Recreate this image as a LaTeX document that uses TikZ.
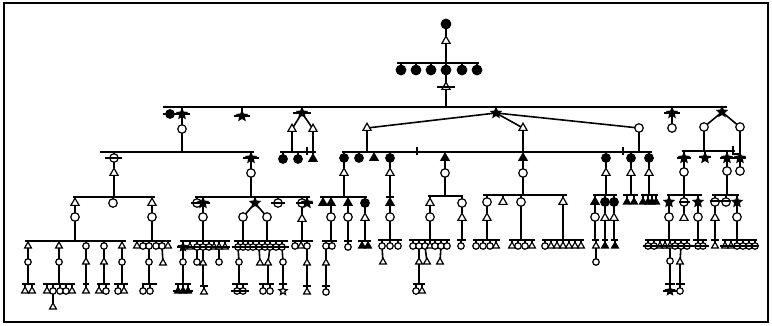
\documentclass[tikz,border=0pt]{standalone}
\usetikzlibrary{shapes.geometric}
\begin{document}
\begin{tikzpicture}[x=1pt,y=-1pt,
 ln/.style={line width=1.6pt},
 sym/.style={inner sep=0pt,outer sep=0pt,line width=1.2pt},
 oc/.style={sym,circle,draw,fill=white,minimum size=8.5pt},
 fc/.style={sym,circle,draw,fill=black,minimum size=8.5pt},
 ot/.style={sym,regular polygon,regular polygon sides=3,draw,fill=white,minimum size=9.5pt},
 ft/.style={sym,regular polygon,regular polygon sides=3,draw,fill=black,minimum size=9.5pt},
 st/.style={sym,star,star points=5,star point ratio=2.2,draw,fill=black,minimum size=10pt},
 soc/.style={oc,minimum size=6.5pt},
 sfc/.style={fc,minimum size=6.5pt},
 sot/.style={ot,minimum size=7.8pt},
 sft/.style={ft,minimum size=7.8pt},
 sst/.style={st,minimum size=8.5pt},
 sos/.style={st,fill=white,minimum size=8.5pt},
 big/.style={minimum size=9.5pt}]
\newcommand\HB[3]{\draw[ln] (#1,#3) -- (#2,#3);}
\newcommand\kids[4]{\foreach \x/\t in {#4}{\node[\t] (#3\x) at (\x,#2) {}; \draw[ln] (#3\x) -- (#3\x |- 0,#1);}}
\useasboundingbox (0,0) rectangle (772,326);
\fill[white] (0,0) rectangle (772,326);
\draw[line width=1.6pt] (4,3) rectangle (768,322);
% Generation I and II
\node[fc,big] (a1) at (446,24) {};
\node[ot] (a2) at (446,41) {};
\draw[ln] (a1) -- (a2);
\draw[ln] (a2) -- (a2 |- 0,63);
\HB{397}{479}{63}
\foreach \i/\x in {1/401,2/416,3/431,4/446,5/462,6/477}{\node[fc,big] (b\i) at (\x,70) {}; \draw[ln] (b\i) -- (b\i |- 0,63);}
\node[ot] (b7) at (446,87) {};
\draw[ln] (b4) -- (b7); \draw[ln] (b7) -- (b7 |- 0,107);
\HB{437}{455}{87}
\HB{163}{727}{107}
% Generation III left
\node[fc] (c1) at (170,114) {};
\node[st] (c2) at (182,114) {};
\HB{163}{190}{114}
\draw[ln] (c2) -- (c2 |- 0,107);
\node[oc] (c3) at (182,129) {};
\draw[ln] (c2) -- (c3); \draw[ln] (c3) -- (c3 |- 0,152);
\HB{100}{254}{152}
\node[st] (c4) at (242,116) {}; \draw[ln] (c4) -- (c4 |- 0,107); \HB{234}{250}{116}
\node[st] (c5) at (302,113) {}; \draw[ln] (c5) -- (c5 |- 0,107); \HB{293}{311}{113}
\node[ot] (c6) at (292,129) {}; \node[ot] (c7) at (313,129) {};
\draw[ln] (c5) -- (c6); \draw[ln] (c5) -- (c7);
\draw[ln] (c6) -- (c6 |- 0,152); \draw[ln] (c7) -- (c7 |- 0,152);
\HB{280}{316}{152} \draw[ln] (307,147) -- (307,155);
\kids{152}{159}{d}{283/fc,298/fc,313/ft}
% Generation III middle
\node[st] (c8) at (496,113) {}; \draw[ln] (c8) -- (c8 |- 0,107);
\node[ot] (c9) at (367,128) {}; \node[ot] (c10) at (523,128) {}; \node[oc] (c11) at (639,128) {};
\draw[ln] (c8) -- (c9); \draw[ln] (c8) -- (c10); \draw[ln] (c8) -- (c11);
\draw[ln] (c9) -- (c9 |- 0,152); \draw[ln] (c10) -- (c10 |- 0,152); \draw[ln] (c11) -- (c11 |- 0,152);
\HB{342}{652}{152}
\draw[ln] (417,147) -- (417,155); \draw[ln] (623,147) -- (623,155);
\kids{152}{158}{d}{344/fc,359/fc,374/ft,390/fc,445/ft,523/ft,606/fc,631/fc,649/fc}
% Generation III right
\node[st] (c12) at (672,113) {}; \draw[ln] (c12) -- (c12 |- 0,107); \HB{664}{680}{113}
\node[oc] (c13) at (672,128) {}; \draw[ln] (c12) -- (c13);
\node[st] (c14) at (722,112) {}; \draw[ln] (c14) -- (c14 |- 0,107);
\node[oc] (c15) at (704,127) {}; \node[oc] (c16) at (740,127) {};
\draw[ln] (c14) -- (c15); \draw[ln] (c14) -- (c16);
\draw[ln] (c15) -- (c15 |- 0,151); \draw[ln] (c16) -- (c16 |- 0,154);
\HB{682}{735}{151} \draw[ln] (733,146) -- (733,154) -- (740,154);
\kids{151}{158}{e}{684/st,705/st,727/st,740/st}
\HB{677}{691}{158} \HB{699}{711}{157} \HB{720}{746}{158}
\node[oc] (g6) at (684,172) {}; \draw[ln] (e684) -- (g6); \draw[ln] (g6) -- (g6 |- 0,195);
\node[oc] (g7) at (727,171) {}; \draw[ln] (e727) -- (g7); \draw[ln] (g7) -- (g7 |- 0,195);
\node[oc] (g8) at (740,171) {}; \draw[ln] (e740) -- (g8);
\HB{667}{702}{195}
\kids{195}{202}{f}{669/st,684/oc,698/st}
\HB{679}{690}{202}
\node[oc] (g1) at (669,217) {}; \node[ot] (g2) at (684,218) {}; \node[oc] (g3) at (698,217) {};
\draw[ln] (f669) -- (g1); \draw[ln] (f684) -- (g2); \draw[ln] (f698) -- (g3);
\draw[ln] (g1) -- (g1 |- 0,240); \draw[ln] (g3) -- (g3 |- 0,240);
\HB{712}{739}{195}
\kids{195}{202}{f}{715/oc,726/oc,737/st}
\HB{710}{731}{201}
\node[ot] (g4) at (715,218) {}; \node[oc] (g5) at (737,217) {};
\draw[ln] (f715) -- (g4); \draw[ln] (f737) -- (g5);
\draw[ln] (g4) -- (g4 |- 0,240); \draw[ln] (g5) -- (g5 |- 0,240);
% bottom right
\HB{645}{690}{240}
\kids{240}{246}{h}{648/soc,654/soc,660/sot,665/sot,670/sot,675/soc,681/soc,687/soc}
\HB{643}{692}{246}
\node[soc] (i1) at (670,261) {}; \node[sot] (i2) at (680,262) {};
\draw[ln] (h670) -- (i1); \draw[ln] (h681) -- (i2);
\draw[ln] (i1) -- (i1 |- 0,284); \draw[ln] (i2) -- (i2 |- 0,284);
\HB{665}{675}{284} \HB{676}{685}{284}
\node[sst] (j670) at (670,291) {}; \node[soc] (j680) at (680,291) {};
\draw[ln] (j670) -- (j670 |- 0,284); \draw[ln] (j680) -- (j680 |- 0,284);
\HB{663}{677}{291}
\HB{693}{707}{240}
\kids{240}{246}{h}{698/soc,703/soc}
\HB{692}{709}{246}
\HB{711}{719}{240}
\node[sot] (h715) at (715,246) {}; \draw[ln] (h715) -- (h715 |- 0,240);
\HB{722}{757}{240}
\kids{240}{246}{h}{725/sot,731/sot,737/soc,743/soc,749/soc,755/soc}
\HB{720}{759}{246}
% middle: 606, 631, 649
\node[ot] (k1) at (606,173) {}; \draw[ln] (d606) -- (k1); \draw[ln] (k1) -- (k1 |- 0,195);
\HB{593}{617}{195}
\kids{195}{202}{l}{595/ft,605/fc,614/fc}
\node[oc] (m1) at (595,217) {}; \node[ot] (m2) at (605,218) {}; \node[ot] (m3) at (614,218) {};
\draw[ln] (l595) -- (m1); \draw[ln] (l605) -- (m2); \draw[ln] (l614) -- (m3);
\draw[ln] (m1) -- (m1 |- 0,240); \draw[ln] (m2) -- (m2 |- 0,240); \draw[ln] (m3) -- (m3 |- 0,240);
\HB{592}{599}{240} \HB{602}{608}{240} \HB{611}{618}{240}
\kids{240}{246}{n}{596/sot,605/sft,615/sft}
\node[soc] (n4) at (596,262) {}; \draw[ln] (n596) -- (n4);
\node[ot] (k2) at (631,173) {}; \draw[ln] (d631) -- (k2); \draw[ln] (k2) -- (k2 |- 0,195);
\HB{623}{638}{195}
\kids{195}{202}{o}{627/sft,634/sft}
\node[ot] (k3) at (649,173) {}; \draw[ln] (d649) -- (k3); \draw[ln] (k3) -- (k3 |- 0,195);
\HB{641}{658}{195}
\kids{195}{202}{o}{643/sft,648/sft,652/sft,656/sft}
% middle: 523
\node[oc] (k4) at (523,173) {}; \draw[ln] (d523) -- (k4); \draw[ln] (k4) -- (k4 |- 0,195);
\HB{483}{567}{195}
\kids{195}{202}{o}{487/oc,503/ot,521/oc,563/ot}
\node[ot] (k5) at (487,218) {}; \draw[ln] (o487) -- (k5); \draw[ln] (k5) -- (k5 |- 0,240);
\draw[ln] (o521) -- (o521 |- 0,240); \draw[ln] (o563) -- (o563 |- 0,240);
\HB{473}{500}{240}
\kids{240}{246}{p}{476/soc,483/soc,490/soc,496/sot}
\HB{509}{535}{240}
\kids{240}{246}{p}{512/sot,518/soc,525/soc,532/sot}
\HB{542}{584}{240}
\kids{240}{246}{p}{545/soc,551/sot,557/sot,563/sot,569/sot,575/sot,581/sot}
% middle: 445
\node[oc] (k6) at (445,173) {}; \draw[ln] (d445) -- (k6); \draw[ln] (k6) -- (k6 |- 0,196);
\HB{428}{463}{196}
\kids{196}{203}{o}{430/ot,462/oc}
\node[oc] (k7) at (430,217) {}; \draw[ln] (o430) -- (k7); \draw[ln] (k7) -- (k7 |- 0,240);
\node[ot] (k8) at (462,218) {}; \draw[ln] (o462) -- (k8); \draw[ln] (k8) -- (k8 |- 0,240);
\HB{409}{450}{240}
\kids{240}{246}{p}{413/soc,419/soc,425/soc,430/sot,435/soc,441/soc,447/soc}
\node[sot] (t419) at (419,262) {}; \node[sot] (t427) at (427,262) {}; \node[sot] (t440) at (440,262) {};
\draw[ln] (p419) -- (t419); \draw[ln] (p425) -- (t427); \draw[ln] (p441) -- (t440);
\draw[ln] (t419) -- (t419 |- 0,284);
\HB{413}{425}{284}
\kids{284}{291}{u}{416/soc,422/sot}
\HB{457}{466}{240}
\node[soc] (p461) at (461,246) {}; \draw[ln] (p461) -- (p461 |- 0,240);
% middle: 390
\node[ot] (k9) at (390,173) {}; \draw[ln] (d390) -- (k9); \draw[ln] (k9) -- (k9 |- 0,197);
\HB{386}{394}{197}
\node[ft] (k10) at (390,203) {}; \draw[ln] (k10) -- (k10 |- 0,197);
\node[oc] (k11) at (390,217) {}; \draw[ln] (k10) -- (k11); \draw[ln] (k11) -- (k11 |- 0,240);
\HB{378}{402}{240}
\kids{240}{246}{p}{382/soc,390/soc,398/soc}
\node[sot] (t383) at (383,262) {}; \draw[ln] (p382) -- (t383);
% middle: 344
\node[ot] (k12) at (344,173) {}; \draw[ln] (d344) -- (k12); \draw[ln] (k12) -- (k12 |- 0,197);
\HB{320}{367}{197}
\kids{197}{203}{o}{323/ft,331/ft,348/ft,365/fc}
\node[oc] (k13) at (331,217) {}; \draw[ln] (o331) -- (k13); \draw[ln] (k13) -- (k13 |- 0,241);
\node[oc] (k14) at (348,217) {}; \draw[ln] (o348) -- (k14); \draw[ln] (k14) -- (k14 |- 0,241);
\node[ot] (k15) at (365,218) {}; \draw[ln] (o365) -- (k15); \draw[ln] (k15) -- (k15 |- 0,241);
\HB{322}{337}{241}
\kids{241}{246}{p}{326/soc,332/soc}
\node[sot] (t326) at (326,263) {}; \draw[ln] (p326) -- (t326); \draw[ln] (t326) -- (t326 |- 0,286);
\HB{322}{330}{286}
\node[soc] (u326) at (326,292) {}; \draw[ln] (u326) -- (u326 |- 0,286);
\HB{344}{352}{241}
\node[soc] (p348) at (348,247) {}; \draw[ln] (p348) -- (p348 |- 0,241);
\HB{358}{371}{241}
\kids{241}{246}{p}{362/sft,368/sft}
% left: generation IV
\kids{152}{158}{r}{114/oc,251/st}
\HB{105}{122}{158} \HB{243}{259}{158}
\node[ot] (r3) at (114,173) {}; \draw[ln] (r114) -- (r3); \draw[ln] (r3) -- (r3 |- 0,197);
\HB{73}{155}{197}
\kids{197}{203}{w}{75/ot,113/oc,152/ot}
\node[oc] (r4) at (75,217) {}; \draw[ln] (w75) -- (r4); \draw[ln] (r4) -- (r4 |- 0,241);
\node[oc] (r5) at (152,217) {}; \draw[ln] (w152) -- (r5); \draw[ln] (r5) -- (r5 |- 0,241);
\node[oc] (r6) at (251,173) {}; \draw[ln] (r251) -- (r6); \draw[ln] (r6) -- (r6 |- 0,197);
\HB{195}{310}{197}
\kids{197}{203}{w}{197/oc,203/st,255/st,278/oc,302/oc,307/st}
\HB{191}{210}{203} \HB{271}{285}{203} \HB{296}{313}{203}
\node[oc] (r7) at (203,217) {}; \draw[ln] (w203) -- (r7); \draw[ln] (r7) -- (r7 |- 0,241);
\node[ot] (r8) at (302,219) {}; \draw[ln] (w302) -- (r8); \draw[ln] (r8) -- (r8 |- 0,241);
\node[oc] (r9) at (243,217) {}; \node[oc] (r10) at (267,217) {};
\draw[ln] (w255) -- (r9); \draw[ln] (w255) -- (r10);
\draw[ln] (r9) -- (r9 |- 0,241); \draw[ln] (r10) -- (r10 |- 0,241);
% left bottom: 25..126
\HB{25}{126}{241}
\kids{241}{246}{s}{28/sot,59/sot,86/soc,104/soc,122/sot}
\foreach \x/\t in {28/soc,59/soc,86/sot,104/sot,122/soc}{\node[\t] (t\x) at (\x,262) {}; \draw[ln] (s\x) -- (t\x); \draw[ln] (t\x) -- (t\x |- 0,284);}
\HB{22}{35}{284} \HB{43}{75}{284} \HB{83}{89}{284} \HB{97}{110}{284} \HB{114}{128}{284}
\kids{284}{291}{u}{25/sot,32/sot,47/sot,53/soc,60/soc,66/soc,72/sot,86/sot,99/sot,106/soc,118/soc,124/sot}
\node[sot] (v53) at (53,307) {}; \draw[ln] (u53) -- (v53);
% left bottom: 133..171
\HB{133}{171}{241}
\kids{241}{246}{s}{137/sot,143/soc,149/soc,156/soc,162/soc,168/sot}
\node[soc] (t149) at (149,262) {}; \draw[ln] (s149) -- (t149); \draw[ln] (t149) -- (t149 |- 0,284);
\node[sot] (t163) at (163,263) {}; \draw[ln] (s162) -- (t163);
\HB{142}{157}{284}
\kids{284}{291}{u}{143/soc,150/soc}
% left bottom: 180..230
\HB{180}{230}{241}
\kids{241}{247}{s}{183/sst,190/sot,197/soc,203/soc,209/soc,214/sot,219/sot,225/sot}
\HB{177}{230}{247}
\node[soc] (t183) at (183,262) {}; \node[soc] (t197) at (197,262) {};
\node[sot] (t203) at (203,263) {}; \node[soc] (t219) at (219,262) {};
\draw[ln] (s183) -- (t183); \draw[ln] (s197) -- (t197); \draw[ln] (s203) -- (t203); \draw[ln] (s219) -- (t219);
\draw[ln] (t183) -- (t183 |- 0,284);
\HB{175}{191}{284}
\kids{284}{291}{u}{178/sft,183/sft,188/sft}
\HB{173}{193}{291}
\draw[ln] (t203) -- (t203 |- 0,286);
\HB{200}{208}{286}
\node[sot] (u204) at (204,292) {}; \draw[ln] (u204) -- (u204 |- 0,286);
% left bottom: 234..288
\HB{234}{288}{241}
\kids{241}{247}{s}{238/soc,243/soc,248/soc,253/soc,259/soc,265/soc,270/soc,276/soc,282/soc}
\HB{232}{289}{247}
\node[soc] (t239) at (239,262) {}; \node[sot] (t260) at (260,263) {};
\node[sot] (t268) at (268,263) {}; \node[soc] (t283) at (283,262) {};
\draw[ln] (s238) -- (t239); \draw[ln] (s259) -- (t260); \draw[ln] (s270) -- (t268); \draw[ln] (s282) -- (t283);
\draw[ln] (t239) -- (t239 |- 0,284); \HB{232}{248}{284}
\kids{284}{291}{u}{237/soc,243/soc}
\HB{231}{249}{291}
\draw[ln] (t268) -- (t268 |- 0,284); \HB{259}{274}{284}
\kids{284}{291}{u}{263/soc,270/soc}
\draw[ln] (t283) -- (t283 |- 0,284); \HB{279}{287}{284}
\node[sos] (u283) at (283,291) {}; \draw[ln] (u283) -- (u283 |- 0,284);
% left bottom: 292..313
\HB{292}{313}{241}
\kids{241}{246}{s}{295/soc,301/sot,307/soc}
\node[sot] (t307) at (307,263) {}; \draw[ln] (s307) -- (t307); \draw[ln] (t307) -- (t307 |- 0,286);
\HB{303}{311}{286}
\node[sot] (u307) at (307,292) {}; \draw[ln] (u307) -- (u307 |- 0,286);
\end{tikzpicture}
\end{document}
